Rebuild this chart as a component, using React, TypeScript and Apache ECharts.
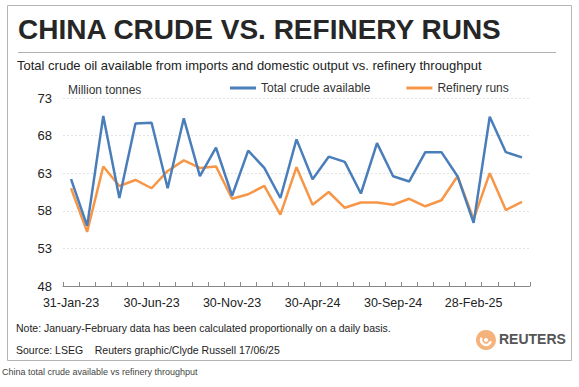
import React, { useEffect, useRef } from "react";
import * as echarts from "echarts";

const categories = [
  "31-Jan-23", "28-Feb-23", "31-Mar-23", "30-Apr-23", "31-May-23", "30-Jun-23",
  "31-Jul-23", "31-Aug-23", "30-Sep-23", "31-Oct-23", "30-Nov-23", "31-Dec-23",
  "31-Jan-24", "29-Feb-24", "31-Mar-24", "30-Apr-24", "31-May-24", "30-Jun-24",
  "31-Jul-24", "31-Aug-24", "30-Sep-24", "31-Oct-24", "30-Nov-24", "31-Dec-24",
  "31-Jan-25", "28-Feb-25", "31-Mar-25", "30-Apr-25", "31-May-25",
];

const totalCrude = [
  62.2, 56.0, 70.6, 59.7, 69.6, 69.7, 61.0, 70.3, 62.6, 66.4, 60.0, 66.0,
  63.7, 59.7, 67.5, 62.2, 65.2, 64.5, 60.3, 67.0, 62.6, 61.9, 65.8, 65.8,
  62.6, 56.4, 70.5, 65.8, 65.1,
];

const refineryRuns = [
  61.0, 55.2, 63.9, 61.3, 62.1, 61.0, 63.3, 64.7, 63.7, 63.9, 59.6, 60.2,
  61.3, 57.5, 63.8, 58.8, 60.5, 58.4, 59.1, 59.1, 58.8, 59.6, 58.6, 59.4,
  62.6, 56.9, 63.0, 58.1, 59.2,
];

const yTicks = { min: 48, max: 73, interval: 5 };

const FONT = "Liberation Sans";

export default function App() {
  const ref = useRef<HTMLDivElement>(null);
  useEffect(() => {
    document.body.style.margin = "0";
    const chart = echarts.init(ref.current!, undefined, { renderer: "svg" });
    chart.setOption({
      animation: false,
      backgroundColor: "#ffffff",
      textStyle: { fontFamily: FONT },
      grid: { left: 63, right: 49, top: 98, bottom: 101, containLabel: false },
      legend: {
        left: 230,
        top: 82,
        padding: 0,
        itemWidth: 26,
        itemHeight: 3,
        itemGap: 36,
        icon: "rect",
        textStyle: { fontFamily: FONT, fontSize: 12, color: "#333" },
        data: ["Total crude available", "Refinery runs"],
      },
      xAxis: {
        type: "category",
        data: categories,
        boundaryGap: true,
        axisLine: { lineStyle: { color: "#888", width: 1 } },
        axisTick: { show: true, inside: true, length: 4, interval: 0, lineStyle: { color: "#888" } },
        axisLabel: { interval: 4, color: "#222", fontSize: 12.5, fontFamily: FONT, margin: 10 },
        splitLine: { show: false },
      },
      yAxis: {
        type: "value",
        min: yTicks.min,
        max: yTicks.max,
        interval: yTicks.interval,
        axisLine: { show: false },
        axisTick: { show: false },
        axisLabel: { color: "#222", fontSize: 13, fontFamily: FONT, margin: 11 },
        splitLine: { lineStyle: { color: "#e2e2e2", type: [2, 2], width: 1 } },
      },
      series: [
        {
          name: "Total crude available",
          type: "line",
          data: totalCrude,
          symbol: "none",
          lineStyle: { color: "#4a7ebb", width: 2.5 },
          itemStyle: { color: "#4a7ebb" },
          z: 3,
        },
        {
          name: "Refinery runs",
          type: "line",
          data: refineryRuns,
          symbol: "none",
          lineStyle: { color: "#f79646", width: 2.5 },
          itemStyle: { color: "#f79646" },
          z: 2,
        },
      ],
      graphic: [
        { type: "rect", shape: { x: 7.5, y: 5.5, width: 564, height: 355 }, style: { fill: "none", stroke: "#b5b5b5", lineWidth: 1 }, silent: true },
        { type: "text", left: 18, top: 15, style: { text: "CHINA CRUDE VS. REFINERY RUNS", font: `bold 28px "${FONT}"`, fill: "#262626" } },
        { type: "line", shape: { x1: 18, y1: 52.5, x2: 556, y2: 52.5 }, style: { stroke: "#b0b0b0", lineWidth: 1 } },
        { type: "text", left: 17, top: 59, style: { text: "Total crude oil available from imports and domestic output vs. refinery throughput", font: `13px "${FONT}"`, fill: "#222" } },
        { type: "text", left: 68, top: 84, style: { text: "Million tonnes", font: `12px "${FONT}"`, fill: "#333" } },
        { type: "text", left: 16, top: 322, style: { text: "Note: January-February data has been calculated proportionally on a daily basis.", font: `10.5px "${FONT}"`, fill: "#222" } },
        { type: "text", left: 16, top: 344, style: { text: "Source: LSEG    Reuters graphic/Clyde Russell 17/06/25", font: `10.5px "${FONT}"`, fill: "#222" } },
        // Reuters logo
        { type: "circle", shape: { cx: 486, cy: 340, r: 10 }, style: { fill: "#f5b27a" } },
        { type: "arc", shape: { cx: 486, cy: 340, r: 5, startAngle: 0.3, endAngle: 3.6 }, style: { stroke: "#ffffff", lineWidth: 2.5, fill: "none" } },
        { type: "circle", shape: { cx: 486, cy: 340, r: 2 }, style: { fill: "#ffffff" } },
        { type: "text", left: 499, top: 332, style: { text: "REUTERS", font: `bold 14px "${FONT}"`, fill: "#555" } },
        { type: "text", left: 2, top: 367, style: { text: "China total crude available vs refinery throughput", font: `9px "${FONT}"`, fill: "#444" } },
      ],
    });
    return () => chart.dispose();
  }, []);
  return <div ref={ref} style={{ width: 579, height: 387 }} />;
}
